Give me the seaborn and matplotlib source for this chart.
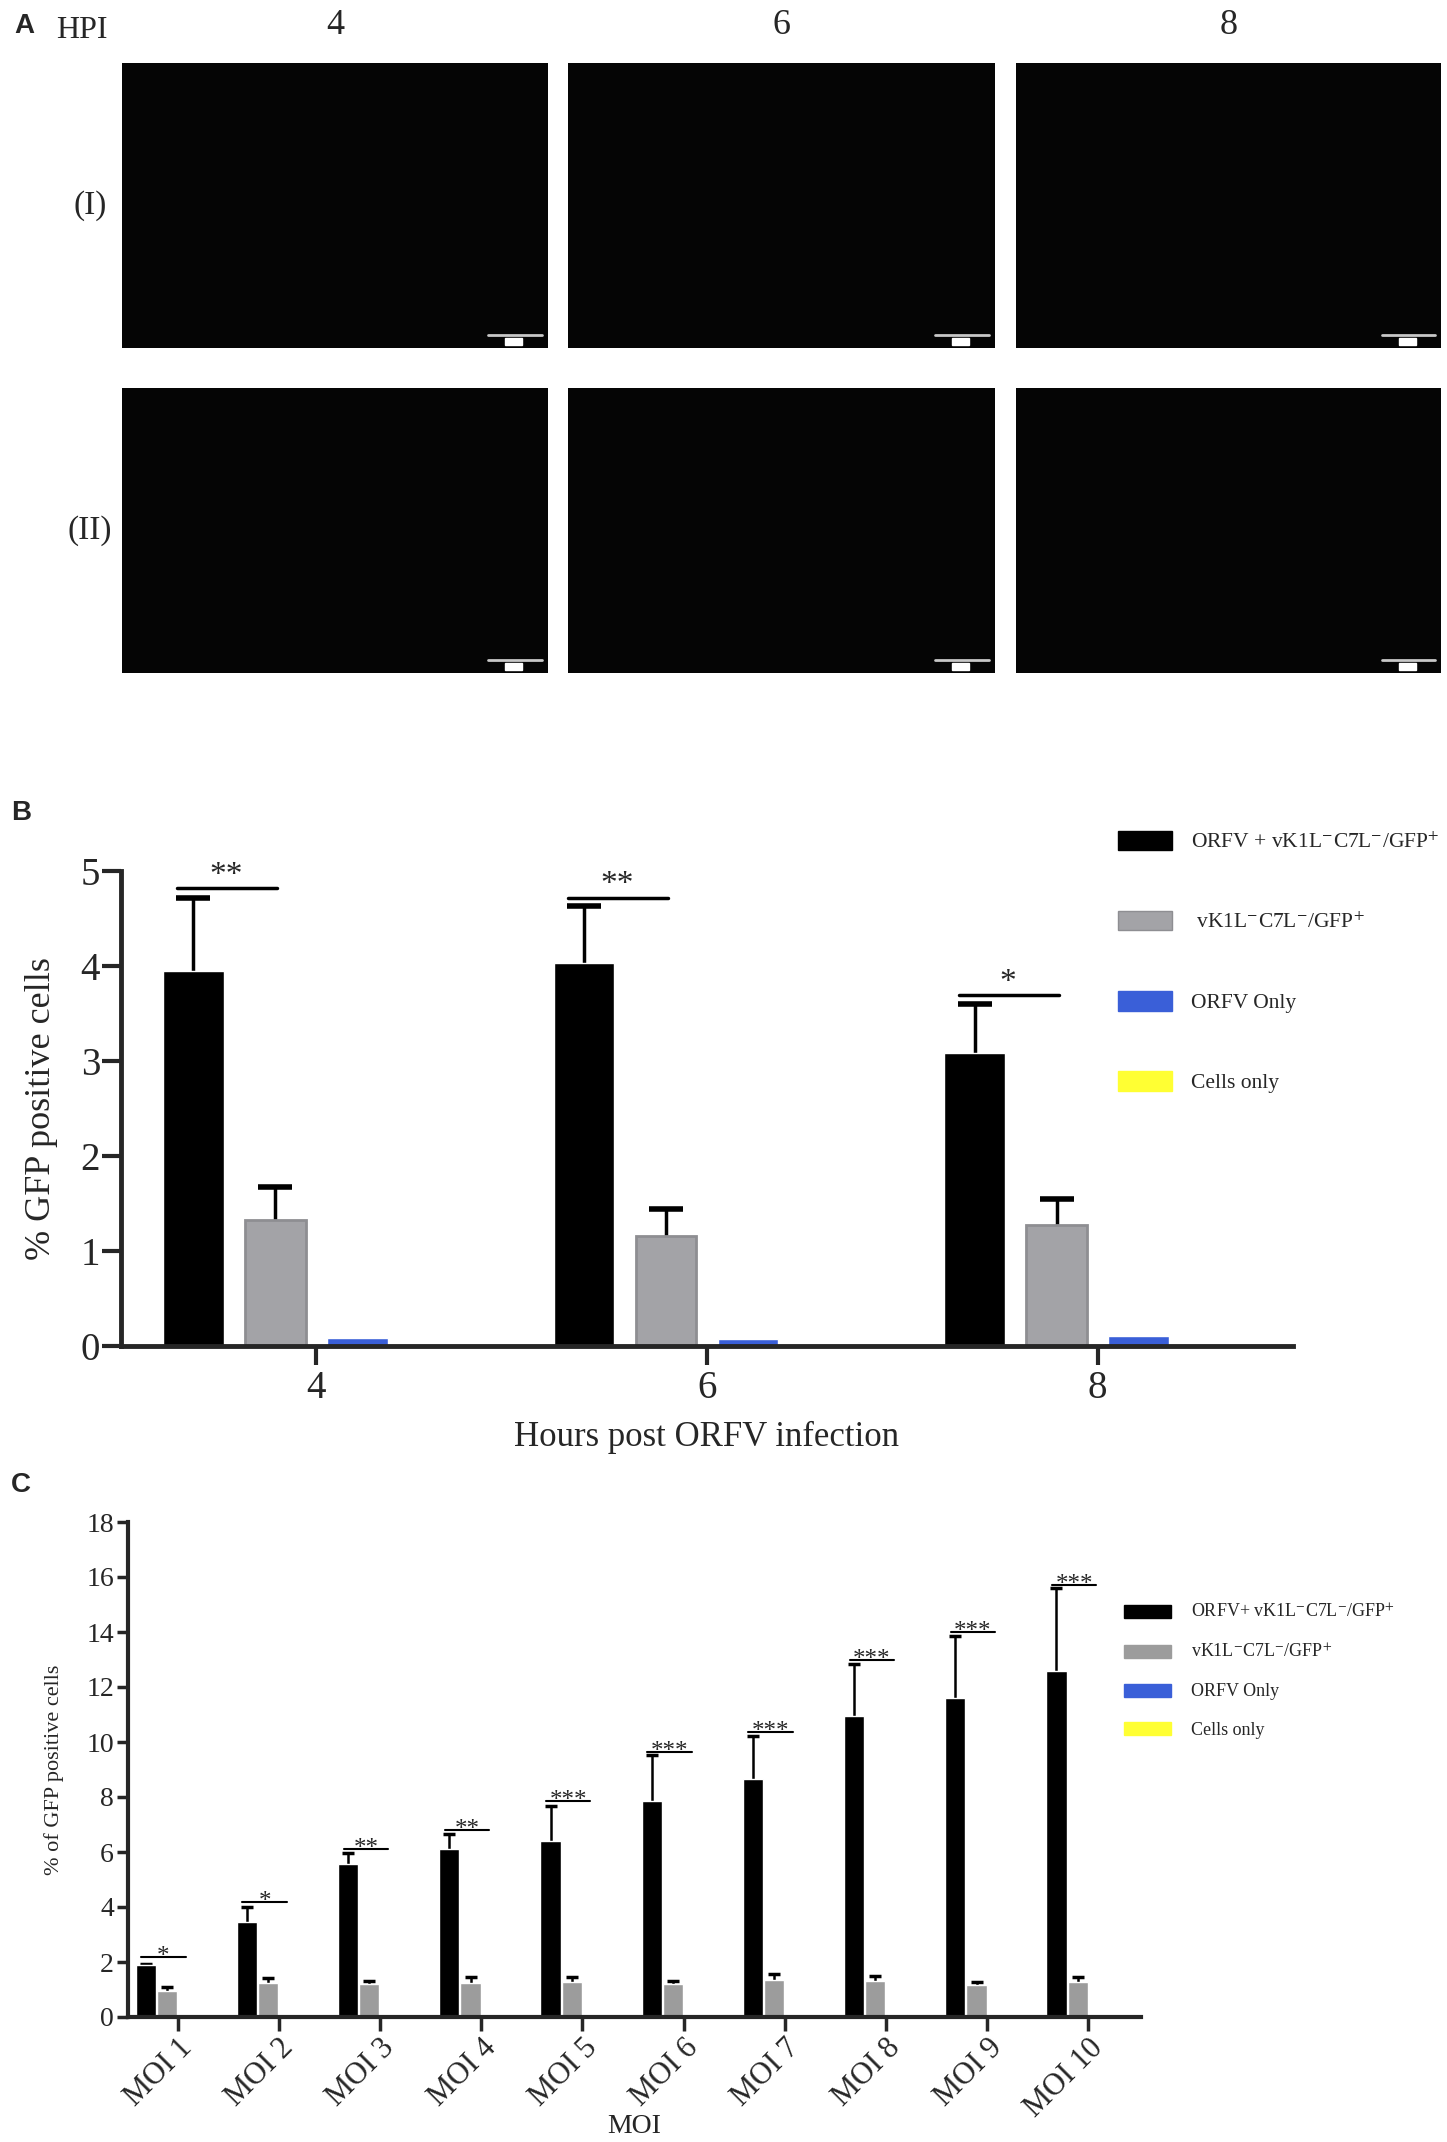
import numpy as np
import pandas as pd
import matplotlib
matplotlib.use('Agg')
import matplotlib.pyplot as plt
from matplotlib.patches import Patch
import seaborn as sns

# ---- data ----
hpi = ['4', '6', '8']
b_combo = [3.95, 4.03, 3.08]
b_combo_err = [0.77, 0.60, 0.52]
b_mut = [1.32, 1.15, 1.27]
b_mut_err = [0.35, 0.29, 0.27]
b_orfv = [0.08, 0.07, 0.10]
b_cells = [0.01, 0.01, 0.01]
b_sig = ['**', '**', '*']
b_sig_y = [4.82, 4.72, 3.69]

moi = ['MOI 1', 'MOI 2', 'MOI 3', 'MOI 4', 'MOI 5',
       'MOI 6', 'MOI 7', 'MOI 8', 'MOI 9', 'MOI 10']
c_combo = [1.88, 3.47, 5.57, 6.10, 6.39, 7.84, 8.67, 10.94, 11.61, 12.58]
c_combo_err = [0.03, 0.53, 0.40, 0.54, 1.30, 1.67, 1.54, 1.90, 2.23, 3.03]
c_mut = [0.96, 1.24, 1.19, 1.23, 1.27, 1.19, 1.34, 1.31, 1.15, 1.29]
c_mut_err = [0.12, 0.19, 0.13, 0.22, 0.20, 0.12, 0.24, 0.19, 0.11, 0.18]
c_orfv = [0.04, 0.05, 0.08, 0.06, 0.05, 0.06, 0.05, 0.12, 0.08, 0.05]
c_cells = [0.01, 0.01, 0.01, 0.01, 0.01, 0.01, 0.01, 0.01, 0.01, 0.01]
c_sig = ['*', '*', '**', '**', '***', '***', '***', '***', '***', '***']
c_sig_y = [2.17, 4.20, 6.10, 6.80, 7.84, 9.64, 10.35, 12.97, 13.99, 15.70]

groups = ['combo', 'mutant', 'orfv', 'cells']
labels_b = ['ORFV + vK1L$^{-}$C7L$^{-}$/GFP$^{+}$', ' vK1L$^{-}$C7L$^{-}$/GFP$^{+}$',
            'ORFV Only', 'Cells only']
labels_c = ['ORFV+ vK1L$^{-}$C7L$^{-}$/GFP$^{+}$', 'vK1L$^{-}$C7L$^{-}$/GFP$^{+}$',
            'ORFV Only', 'Cells only']
hpi_rows = ['4', '6', '8']
row_labels = ['(I)', '(II)']

colors_b = {'combo': '#000000', 'mutant': '#a3a3a7', 'orfv': '#3a5fd8', 'cells': '#ffff33'}
colors_c = {'combo': '#000000', 'mutant': '#9c9c9c', 'orfv': '#3a5fd8', 'cells': '#ffff33'}

sns.set_style('ticks')
plt.rcParams['font.family'] = ['Liberation Serif', 'DejaVu Serif']
plt.rcParams['mathtext.fontset'] = 'stix'

W, H = 1447, 2142
fig = plt.figure(figsize=(W / 100, H / 100), dpi=100)


def box(x0, y0, x1, y1):
    return [x0 / W, 1 - y1 / H, (x1 - x0) / W, (y1 - y0) / H]


# ---- panel A: micrographs shown as dark fields with scale bars ----
fig.text(14 / W, 1 - 26 / H, 'A', fontsize=20, fontweight='bold',
         family='Liberation Sans', va='center')
fig.text(82 / W, 1 - 30 / H, 'HPI', fontsize=23, va='center', ha='center')
cols = [(122, 548), (568, 995), (1016, 1441)]
rows = [(63, 348), (388, 673)]
for (x0, x1), h in zip(cols, hpi_rows):
    fig.text((x0 + x1) / 2 / W, 1 - 25 / H, h, fontsize=26, va='center', ha='center')
for r, (y0, y1) in enumerate(rows):
    fig.text(90 / W, 1 - (y0 + y1) / 2 / H, row_labels[r], fontsize=24,
             va='center', ha='center')
    for (x0, x1) in cols:
        a = fig.add_axes(box(x0, y0, x1, y1))
        a.set_facecolor('#050505')
        a.set_xticks([])
        a.set_yticks([])
        for s in a.spines.values():
            s.set_visible(False)
        a.plot([0.86, 0.985], [0.045, 0.045], color='#c8c8c8', lw=2,
               transform=a.transAxes)
        a.add_patch(plt.Rectangle((0.9, 0.01), 0.04, 0.025, color='white',
                                  transform=a.transAxes))

# ---- panel B ----
fig.text(11 / W, 1 - 813 / H, 'B', fontsize=20, fontweight='bold',
         family='Liberation Sans', va='center')
df_b = pd.DataFrame({
    'hpi': hpi * 4,
    'group': [g for g in groups for _ in hpi],
    'pct': b_combo + b_mut + b_orfv + b_cells,
})
axb = fig.add_axes(box(121, 871, 1293, 1345.5))
sns.barplot(data=df_b, x='hpi', y='pct', hue='group', order=hpi, hue_order=groups,
            palette=colors_b, width=0.84, gap=0.26, errorbar=None, legend=False,
            ax=axb, saturation=1, zorder=2)
for p in axb.containers[1]:
    p.set_edgecolor('#8e8e92')
    p.set_linewidth(2)
for cont, err in [(axb.containers[0], b_combo_err), (axb.containers[1], b_mut_err)]:
    xs = [p.get_x() + p.get_width() / 2 for p in cont]
    ys = [p.get_height() for p in cont]
    axb.errorbar(xs, ys, yerr=err, fmt='none', ecolor='black',
                 elinewidth=2.5, capsize=12, capthick=4, zorder=1)
for i, (s, y) in enumerate(zip(b_sig, b_sig_y)):
    axb.plot([i - 0.356, i - 0.10], [y, y], color='black', lw=2.5, clip_on=False)
    axb.text(i - 0.23, y - 0.03, s, fontsize=24, ha='center', va='bottom', clip_on=False)
axb.set_xlim(-0.5, 2.5)
axb.set_ylim(0, 5)
axb.set_yticks([0, 1, 2, 3, 4, 5])
sns.despine(ax=axb)
for s in ['left', 'bottom']:
    axb.spines[s].set_linewidth(3.5)
    axb.spines[s].set_zorder(3)
axb.tick_params(axis='both', width=3, length=14, labelsize=28, pad=4)
axb.tick_params(axis='y', pad=1)
axb.set_xlabel('Hours post ORFV infection', fontsize=25, labelpad=10)
axb.set_ylabel('% GFP positive cells', fontsize=26, labelpad=16)
hb = [Patch(facecolor=colors_b[g], edgecolor=colors_b[g] if g != 'mutant' else '#8e8e92')
      for g in groups]
axb.legend(hb, labels_b, loc='upper left', bbox_to_anchor=(1118 / W, 1 - 831 / H),
           bbox_transform=fig.transFigure, frameon=False, fontsize=15.5,
           handlelength=2.5, handleheight=1.0, handletextpad=0.9,
           labelspacing=2.7, borderpad=0, borderaxespad=0)

# ---- panel C ----
fig.text(11 / W, 1 - 1485 / H, 'C', fontsize=20, fontweight='bold',
         family='Liberation Sans', va='center')
df_c = pd.DataFrame({
    'moi': moi * 4,
    'group': [g for g in groups for _ in moi],
    'pct': c_combo + c_mut + c_orfv + c_cells,
})
axc = fig.add_axes(box(128, 1522, 1141, 2017))
sns.barplot(data=df_c, x='moi', y='pct', hue='group', order=moi, hue_order=groups,
            palette=colors_c, width=0.84, gap=0.05, errorbar=None, legend=False,
            ax=axc, saturation=1, zorder=2)
for cont, err in [(axc.containers[0], c_combo_err), (axc.containers[1], c_mut_err)]:
    xs = [p.get_x() + p.get_width() / 2 for p in cont]
    ys = [p.get_height() for p in cont]
    axc.errorbar(xs, ys, yerr=err, fmt='none', ecolor='black',
                 elinewidth=1.8, capsize=4, capthick=2.5, zorder=1)
for i, (s, y) in enumerate(zip(c_sig, c_sig_y)):
    axc.plot([i - 0.36, i + 0.08], [y, y], color='black', lw=1.5, clip_on=False)
    axc.text(i - 0.14, y - 0.4, s, fontsize=18, ha='center', va='bottom', clip_on=False)
axc.set_xlim(-0.49, 9.52)
axc.set_ylim(0, 18)
axc.set_yticks(range(0, 19, 2))
sns.despine(ax=axc)
for s in ['left', 'bottom']:
    axc.spines[s].set_linewidth(3)
    axc.spines[s].set_zorder(3)
axc.tick_params(axis='both', width=2.5, length=8, pad=2)
axc.tick_params(axis='y', labelsize=20)
axc.tick_params(axis='x', length=10, labelsize=22)
plt.setp(axc.get_xticklabels(), rotation=45, ha='right', rotation_mode='anchor')
axc.set_xlabel('MOI', fontsize=20, va='center')
axc.xaxis.set_label_coords(0.5, -0.222)
axc.set_ylabel('% of GFP positive cells', fontsize=16, labelpad=16)
hc = [Patch(facecolor=colors_c[g], edgecolor=colors_c[g]) for g in groups]
axc.legend(hc, labels_c, loc='upper left', bbox_to_anchor=(1124 / W, 1 - 1603 / H),
           bbox_transform=fig.transFigure, frameon=False, fontsize=13,
           handlelength=2.6, handleheight=0.72, handletextpad=1.1,
           labelspacing=1.2, borderpad=0, borderaxespad=0)

fig.savefig('out.png', dpi=100)
